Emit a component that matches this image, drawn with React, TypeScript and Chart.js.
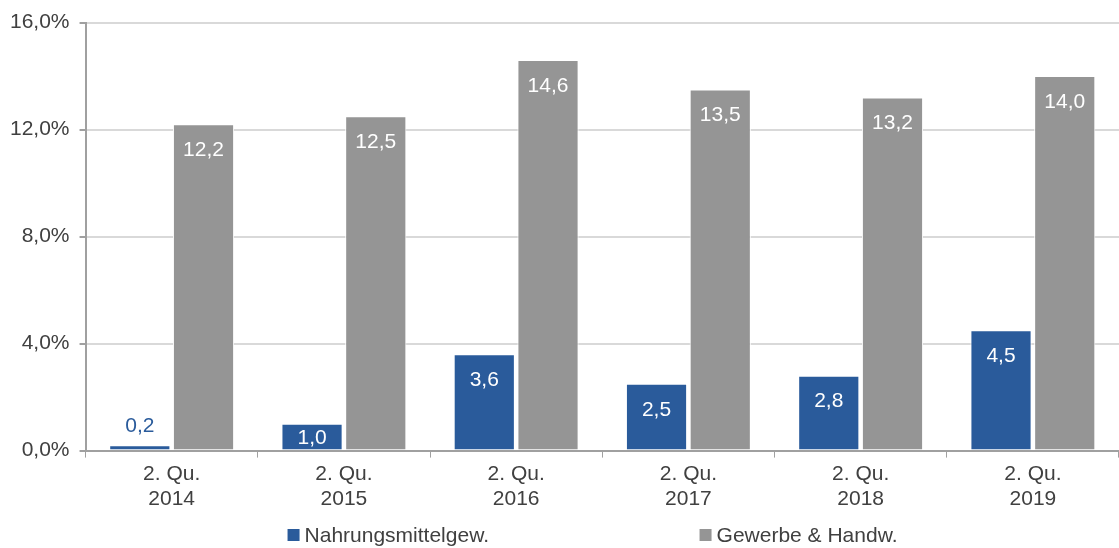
import React, { useEffect, useRef } from "react";
import { Chart, registerables } from "chart.js";

Chart.register(...registerables);

const categories: string[][] = [
  ["2. Qu.", "2014"],
  ["2. Qu.", "2015"],
  ["2. Qu.", "2016"],
  ["2. Qu.", "2017"],
  ["2. Qu.", "2018"],
  ["2. Qu.", "2019"],
];
const seriesNames = ["Nahrungsmittelgew.", "Gewerbe & Handw."];
const nahrung = [0.2, 1.0, 3.6, 2.5, 2.8, 4.5];
const gewerbe = [12.2, 12.5, 14.6, 13.5, 13.2, 14.0];
const colors = ["#2a5b9b", "#959595"];

const FONT = "'Liberation Sans', Arial, sans-serif";
const fmt = (v: number, d: number) => v.toFixed(d).replace(".", ",");

const labelPlugin = {
  id: "valueLabels",
  afterDatasetsDraw(chart: any) {
    const ctx = chart.ctx;
    ctx.save();
    ctx.font = `21px ${FONT}`;
    ctx.textAlign = "center";
    ctx.textBaseline = "middle";
    chart.data.datasets.forEach((ds: any, di: number) => {
      const meta = chart.getDatasetMeta(di);
      meta.data.forEach((bar: any, i: number) => {
        const v = ds.data[i];
        const h = bar.base - bar.y;
        if (h < 20) {
          ctx.fillStyle = colors[di];
          ctx.fillText(fmt(v, 1), bar.x, bar.y - 19);
        } else {
          ctx.fillStyle = "#ffffff";
          ctx.fillText(fmt(v, 1), bar.x, bar.y + Math.min(26, h / 2 + 1));
        }
      });
    });
    ctx.restore();
  },
};

const legendPlugin = {
  id: "customLegend",
  afterDraw(chart: any) {
    const ctx = chart.ctx;
    const area = chart.chartArea;
    const y = 536;
    const xs = [area.left + 202, area.left + 614];
    ctx.save();
    ctx.font = `21px ${FONT}`;
    ctx.textBaseline = "middle";
    ctx.textAlign = "left";
    seriesNames.forEach((name, i) => {
      ctx.fillStyle = colors[i];
      ctx.fillRect(xs[i], y - 7, 12, 12);
      ctx.fillStyle = "#404040";
      ctx.fillText(name, xs[i] + 17, y);
    });
    ctx.restore();
  },
};

export default function App() {
  const ref = useRef<HTMLCanvasElement | null>(null);
  useEffect(() => {
    document.body.style.margin = "0";
    if (!ref.current) return;
    const chart = new Chart(ref.current, {
      type: "bar",
      data: {
        labels: categories,
        datasets: [
          {
            label: seriesNames[0],
            data: nahrung,
            backgroundColor: colors[0],
            borderColor: "#ffffff",
            borderWidth: 1,
            categoryPercentage: 0.74,
            barPercentage: 0.96,
          },
          {
            label: seriesNames[1],
            data: gewerbe,
            backgroundColor: colors[1],
            borderColor: "#ffffff",
            borderWidth: 1,
            categoryPercentage: 0.74,
            barPercentage: 0.96,
          },
        ],
      },
      options: {
        animation: false,
        responsive: false,
        maintainAspectRatio: false,
        layout: { padding: { top: 5, left: 0, right: 0, bottom: 32 } },
        plugins: {
          legend: { display: false },
          tooltip: { enabled: false },
        },
        scales: {
          x: {
            grid: {
              display: true,
              drawOnChartArea: false,
              drawTicks: true,
              tickLength: 7,
              tickColor: "#a0a0a0",
              offset: true,
            },
            border: { color: "#a0a0a0", width: 2 },
            ticks: {
              font: { size: 21, family: FONT },
              color: "#404040",
              padding: 4,
              maxRotation: 0,
            },
          },
          y: {
            min: 0,
            max: 16,
            ticks: {
              stepSize: 4,
              font: { size: 21, family: FONT },
              color: "#404040",
              padding: 10,
              callback: (v: any) => fmt(Number(v), 1) + "%",
            },
            grid: {
              color: "#d9d9d9",
              lineWidth: 2,
              tickColor: "#a0a0a0",
              tickLength: 6,
            },
            border: { color: "#a0a0a0", width: 2 },
          },
        },
      },
      plugins: [labelPlugin, legendPlugin],
    });
    return () => chart.destroy();
  }, []);
  return (
    <div style={{ width: 1119, height: 548 }}>
      <canvas ref={ref} width={1119} height={548} />
    </div>
  );
}
